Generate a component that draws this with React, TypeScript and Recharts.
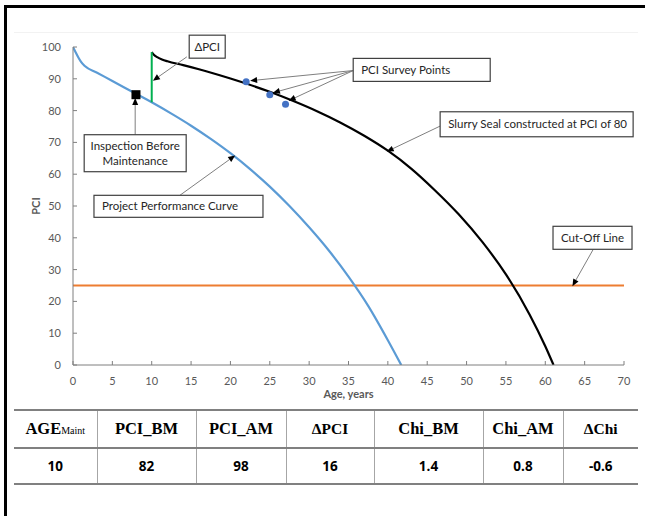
import React from 'react';
import { ComposedChart, Line, Scatter, XAxis, YAxis, ReferenceLine, ReferenceDot } from 'recharts';

// ---- data ----
const xTicks = [0, 5, 10, 15, 20, 25, 30, 35, 40, 45, 50, 55, 60, 65, 70];
const yTicks = [0, 10, 20, 30, 40, 50, 60, 70, 80, 90, 100];

const perfAge = [0, 0.3, 0.7, 1.0, 1.5, 3, 5, 8, 10, 12.5, 15, 17.5, 20, 22.5, 25, 27.5, 30, 32.5, 35, 37.5, 40, 41.7];
const perfPci = [100, 98.5, 96.6, 95.4, 94.0, 92.0, 89.3, 85.3, 82.6, 79.05, 75.25, 71.1, 66.6, 61.6, 56.1, 50.0, 43.3, 36.0, 27.8, 18.6, 7.8, 0];

const sealAge = [10, 10.3, 10.7, 11.3, 12, 14, 16, 18, 20, 22, 25, 28, 31, 34, 37, 40, 43, 46, 49, 52, 55, 58, 60, 61.05];
const sealPci = [98.4, 97.5, 96.8, 96.1, 95.5, 94.3, 93.0, 91.6, 90.1, 88.5, 85.9, 83.0, 79.8, 76.2, 72.1, 67.4, 61.7, 54.9, 47.4, 38.7, 28.5, 15.9, 5.9, 0];

const surveyAge = [22, 25, 27];
const surveyPci = [89.1, 85, 82];

const inspectionAge = [8];
const inspectionPci = [85];

const maintAge = 10;
const pciBefore = 82.6;
const pciAfter = 98.4;
const cutOffPci = 25;

const tableHeaders = ['AGE', 'PCI_BM', 'PCI_AM', 'ΔPCI', 'Chi_BM', 'Chi_AM', 'ΔChi'];
const tableValues = ['10', '82', '98', '16', '1.4', '0.8', '-0.6'];

// annotation boxes (data coordinates)
const boxes = [
  { id: 'dpci', x: 17.05, y: 100.1, lines: ['ΔPCI'], w: 36, h: 23, align: 'middle' },
  { id: 'insp', x: 7.9, y: 66.6, lines: ['Inspection Before', 'Maintenance'], w: 102, h: 37, align: 'middle' },
  { id: 'perf', x: 13.4, y: 49.9, lines: ['Project Performance Curve'], w: 169, h: 22, align: 'start' },
  { id: 'surv', x: 44.3, y: 92.8, lines: ['PCI Survey Points'], w: 137, h: 23, align: 'start' },
  { id: 'slur', x: 58.9, y: 75.7, lines: ['Slurry Seal constructed at PCI of 80'], w: 193, h: 25, align: 'start' },
  { id: 'cut', x: 66.0, y: 40.0, lines: ['Cut-Off Line'], w: 79, h: 23, align: 'middle' },
];

const arrows = [
  { from: [14.46, 96.9], to: [10.15, 89.4] },
  { from: [7.9, 72.4], to: [7.9, 84.0] },
  { from: [13.6, 53.4], to: [20.6, 65.9] },
  { from: [35.6, 92.6], to: [22.5, 89.4] },
  { from: [35.6, 92.6], to: [25.4, 85.6] },
  { from: [35.6, 92.6], to: [27.4, 83.1] },
  { from: [46.7, 75.2], to: [39.85, 67.1] },
  { from: [66.1, 36.4], to: [63.45, 24.8] },
];

const zip = (xs: number[], ys: number[]) => xs.map((x, i) => ({ x, y: ys[i] }));
const perfData = zip(perfAge, perfPci);
const sealData = zip(sealAge, sealPci);
const surveyData = zip(surveyAge, surveyPci);
const inspData = zip(inspectionAge, inspectionPci);
const jumpData = [{ x: maintAge, y: pciBefore }, { x: maintAge, y: pciAfter }];
const cutData = [{ x: xTicks[0], y: cutOffPci }, { x: xTicks[xTicks.length - 1], y: cutOffPci }];

const FONT = 'Lato, "Liberation Sans", sans-serif';

const ArrowShape = (p: any) => {
  const { x1, y1, x2, y2 } = p;
  const ang = Math.atan2(y2 - y1, x2 - x1);
  const L = 7, W = 3;
  const c = Math.cos(ang), s = Math.sin(ang);
  const bx = x2 - L * c, by = y2 - L * s;
  const pts = `${x2},${y2} ${bx - W * s},${by + W * c} ${bx + W * s},${by - W * c}`;
  return (
    <g>
      <line x1={x1} y1={y1} x2={bx} y2={by} stroke="#7f7f7f" strokeWidth={1} />
      <polygon points={pts} fill="#000" />
    </g>
  );
};

const makeBox = (b: any) => (p: any) => {
  const { cx, cy } = p;
  const left = cx - b.w / 2;
  const top = cy - b.h / 2;
  const lh = 15;
  const tx = b.align === 'middle' ? cx : left + 8;
  const startY = cy - ((b.lines.length - 1) * lh) / 2;
  return (
    <g>
      <rect x={left} y={top} width={b.w} height={b.h} fill="#fff" stroke="#404040" strokeWidth={1.2} />
      {b.lines.map((t: string, i: number) => (
        <text key={i} x={tx} y={startY + i * lh} dy="0.35em" textAnchor={b.align} fontFamily={FONT} fontSize={11.5} fill="#262626">
          {t}
        </text>
      ))}
    </g>
  );
};

const tickStyle = { fontFamily: FONT, fontSize: 11, fill: '#595959' };

export default function App() {
  const colW = [83, 99, 90, 88, 109, 80, 75];
  return (
    <div style={{ position: 'absolute', left: 0, top: 0, width: 645, height: 516, background: '#fff', overflow: 'hidden' }}>
      <div style={{ position: 'absolute', left: 4, top: 5, width: 645, height: 516, borderTop: '3px solid #000', borderLeft: '3px solid #000' }} />
      <div style={{ position: 'absolute', left: 14, top: 32, width: 624, borderTop: '1px solid #f2f2f2' }} />
      <div style={{ position: 'absolute', left: 0, top: 0 }}>
        <ComposedChart width={645} height={400} margin={{ top: 47, right: 21, bottom: 0, left: 0 }}>
          <XAxis
            dataKey="x"
            type="number"
            domain={[0, 70]}
            ticks={xTicks}
            allowDataOverflow
            interval={0}
            tickSize={-4}
            tickMargin={16}
            height={35}
            stroke="#7f7f7f"
            tick={tickStyle}
            tickLine={{ stroke: '#7f7f7f' }}
            label={{ value: 'Age, years', position: 'insideBottom', offset: 2, style: { fontFamily: FONT, fontSize: 11, fontWeight: 'bold', fill: '#595959' } }}
          />
          <YAxis
            dataKey="y"
            type="number"
            domain={[0, 100]}
            ticks={yTicks}
            allowDataOverflow
            interval={0}
            width={73}
            tickSize={-4}
            tickMargin={16}
            stroke="#7f7f7f"
            tick={tickStyle}
            tickLine={{ stroke: '#7f7f7f' }}
            label={{ value: 'PCI', angle: -90, position: 'center', dx: 0, style: { fontFamily: FONT, fontSize: 11, fontWeight: 'bold', fill: '#595959' } }}
          />
          <Line data={cutData} dataKey="y" type="linear" stroke="#ED7D31" strokeWidth={2} dot={false} isAnimationActive={false} />
          <Line data={perfData} dataKey="y" type="monotone" stroke="#5B9BD5" strokeWidth={2.2} dot={false} isAnimationActive={false} />
          <Line data={sealData} dataKey="y" type="monotone" stroke="#000" strokeWidth={2.2} dot={false} isAnimationActive={false} />
          <Line data={jumpData} dataKey="y" type="linear" stroke="#00B050" strokeWidth={2} dot={false} isAnimationActive={false} />
          <Scatter data={surveyData} dataKey="y" isAnimationActive={false}
            shape={(p: any) => <circle cx={p.cx} cy={p.cy} r={3.5} fill="#4472C4" />} />
          <Scatter data={inspData} dataKey="y" isAnimationActive={false}
            shape={(p: any) => <rect x={p.cx - 4.5} y={p.cy - 4.5} width={9} height={9} fill="#000" />} />
          {arrows.map((a, i) => (
            <ReferenceLine
              key={'a' + i}
              segment={[{ x: a.from[0], y: a.from[1] }, { x: a.to[0], y: a.to[1] }]}
              ifOverflow="visible"
              shape={ArrowShape}
            />
          ))}
          {boxes.map((b) => (
            <ReferenceDot key={b.id} x={b.x} y={b.y} r={1} ifOverflow="visible" shape={makeBox(b)} />
          ))}
        </ComposedChart>
      </div>
      <table
        style={{
          position: 'absolute',
          left: 14,
          top: 409,
          width: 624,
          borderCollapse: 'collapse',
          tableLayout: 'fixed',
        }}
      >
        <colgroup>
          {colW.map((w, i) => (
            <col key={i} style={{ width: w }} />
          ))}
        </colgroup>
        <tbody>
          <tr style={{ height: 38 }}>
            {tableHeaders.map((h, i) => (
              <td
                key={i}
                style={{
                  borderTop: '2px solid #808080',
                  borderBottom: '2px solid #808080',
                  borderLeft: i === 0 ? 'none' : '1px solid #a6a6a6',
                  textAlign: 'center',
                  fontFamily: '"Liberation Serif", serif',
                  fontWeight: 'bold',
                  fontSize: h.startsWith('Δ') ? 15.5 : 16.5,
                  color: '#000',
                  padding: 0,
                }}
              >
                {i === 0 ? (
                  <span>
                    {h}
                    <span style={{ fontSize: 10, fontWeight: 'normal' }}>Maint</span>
                  </span>
                ) : (
                  h
                )}
              </td>
            ))}
          </tr>
          <tr style={{ height: 36 }}>
            {tableValues.map((v, i) => (
              <td
                key={i}
                style={{
                  borderBottom: '2px solid #808080',
                  borderLeft: i === 0 ? 'none' : '1px solid #a6a6a6',
                  textAlign: 'center',
                  fontFamily: '"Open Sans", sans-serif',
                  fontWeight: 'bold',
                  fontSize: 13.5,
                  color: '#000',
                  padding: 0,
                }}
              >
                {v}
              </td>
            ))}
          </tr>
        </tbody>
      </table>
    </div>
  );
}
